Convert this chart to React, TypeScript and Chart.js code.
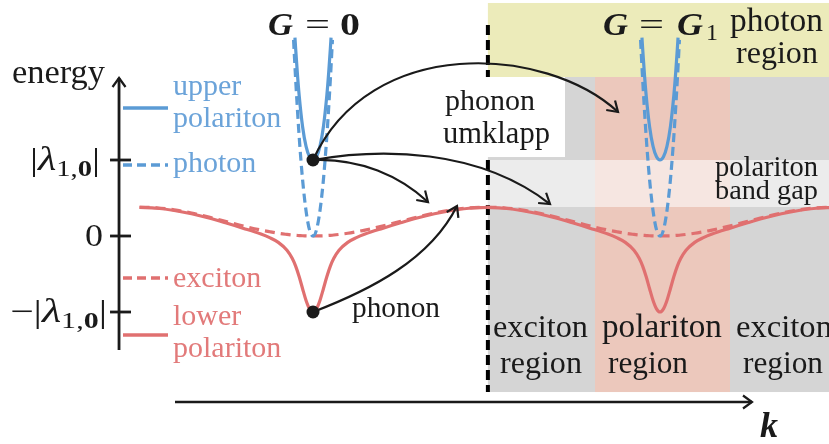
import React, { useEffect, useRef } from "react";
import { Chart, registerables } from "chart.js";
Chart.register(...registerables);

// k in units of |G1| (G = 0 at k = 0, G = G1 at k = 1); energy in units of |λ1,0|
const zoneCenters = [0, 1];

const kOffsets = [-0.5, -0.45, -0.4, -0.35, -0.3, -0.25, -0.2, -0.15, -0.125, -0.1, -0.075, -0.06, -0.05, -0.04, -0.03, -0.02, -0.01, 0, 0.01, 0.02, 0.03, 0.04, 0.05, 0.06, 0.075, 0.1, 0.125, 0.15, 0.2, 0.25, 0.3, 0.35, 0.4, 0.45, 0.5];
const excitonEnergy = [0.38, 0.371, 0.344, 0.302, 0.249, 0.19, 0.131, 0.078, 0.056, 0.036, 0.021, 0.013, 0.009, 0.006, 0.003, 0.002, 0.0004, 0, 0.0004, 0.002, 0.003, 0.006, 0.009, 0.013, 0.021, 0.036, 0.056, 0.078, 0.131, 0.19, 0.249, 0.302, 0.344, 0.371, 0.38];
const lowerPolaritonEnergy = [0.375, 0.365, 0.336, 0.292, 0.236, 0.17, 0.1, 0.025, -0.022, -0.084, -0.188, -0.294, -0.397, -0.534, -0.694, -0.848, -0.959, -1, -0.959, -0.848, -0.694, -0.534, -0.397, -0.294, -0.188, -0.084, -0.022, 0.025, 0.1, 0.17, 0.236, 0.292, 0.336, 0.365, 0.375];

const photonK = [-0.056, -0.05, -0.04, -0.03, -0.02, -0.01, 0, 0.01, 0.02, 0.03, 0.04, 0.05, 0.056];
const photonEnergy = [2.58, 2.06, 1.32, 0.74, 0.33, 0.08, 0, 0.08, 0.33, 0.74, 1.32, 2.06, 2.58];

const upperK = [-0.052, -0.05, -0.045, -0.04, -0.03, -0.02, -0.01, 0, 0.01, 0.02, 0.03, 0.04, 0.045, 0.05, 0.052];
const upperEnergy = [2.61, 2.465, 2.137, 1.858, 1.438, 1.178, 1.042, 1, 1.042, 1.178, 1.438, 1.858, 2.137, 2.465, 2.61];

// marked states (k, E)
const stateK = [0, 0];
const stateE = [1, -1];

// axis tick energies
const tickEnergies = [1, 0, -1];

// regions (k range, E range)
const zoneEdgeK = 0.504;
const photonRegionE = [2.092, 3.066];
const bandGapE = [0.3816, 1.0];
const regionBottomE = -2.053;
const polaritonRegionK = [0.8127, 1.2017];
const umklappBoxK = [0.36, 0.7262];
const umklappBoxE = [1.039, 2.092];

// curved arrows: cubic bezier control points [k, E]
const arrowPaths = [
  [[0, 1], [0.1643, 2.645], [0.6686, 2.513], [0.879, 1.632]],
  [[0, 1], [0.193, 1.158], [0.4755, 1.158], [0.683, 0.421]],
  [[0, 1], [0.1354, 1.026], [0.2507, 0.789], [0.3314, 0.447]],
  [[0, -1], [0.1643, -0.711], [0.3372, -0.316], [0.415, 0.395]],
];

const BLUE = "#5B9BD5";
const RED = "#E07070";
const BLUE_TXT = "#6BA3D9";
const RED_TXT = "#E27A7A";
const INK = "#1a1a1a";
const SERIF = '"Liberation Serif","Times New Roman",serif';

function fitText(ctx: CanvasRenderingContext2D, text: string, style: string, x0: number, x1: number, base: number) {
  ctx.font = `${style} 40px ${SERIF}`;
  const w = ctx.measureText(text).width;
  const size = (40 * (x1 - x0)) / w;
  ctx.font = `${style} ${size}px ${SERIF}`;
  ctx.textAlign = "left";
  ctx.textBaseline = "alphabetic";
  ctx.fillText(text, x0, base);
}

function plainText(ctx: CanvasRenderingContext2D, text: string, size: number, x0: number, base: number) {
  ctx.font = `${size}px ${SERIF}`;
  ctx.textAlign = "left";
  ctx.textBaseline = "alphabetic";
  ctx.fillText(text, x0, base);
}

type Run = { t: string; f: string; dy?: number };
// draws runs stretched horizontally to span x0..x1
function richFit(ctx: CanvasRenderingContext2D, runs: Run[], x0: number, x1: number, base: number) {
  let total = 0;
  const ws = runs.map((r) => {
    ctx.font = r.f;
    const w = ctx.measureText(r.t).width;
    total += w;
    return w;
  });
  const sx = (x1 - x0) / total;
  ctx.save();
  ctx.translate(x0, base);
  ctx.scale(sx, 1);
  ctx.textAlign = "left";
  ctx.textBaseline = "alphabetic";
  let cx = 0;
  runs.forEach((r, i) => {
    ctx.font = r.f;
    ctx.fillText(r.t, cx, r.dy || 0);
    cx += ws[i];
  });
  ctx.restore();
}

function openHead(ctx: CanvasRenderingContext2D, tx: number, ty: number, dx: number, dy: number, len: number, half: number) {
  const n = Math.hypot(dx, dy);
  const ux = dx / n, uy = dy / n;
  const bx = tx - ux * len, by = ty - uy * len;
  ctx.beginPath();
  ctx.moveTo(bx - uy * half, by + ux * half);
  ctx.lineTo(tx, ty);
  ctx.lineTo(bx + uy * half, by - ux * half);
  ctx.stroke();
}

const deco = {
  id: "deco",
  beforeDatasetsDraw(chart: any) {
    const { ctx, scales } = chart;
    const X = (v: number) => scales.x.getPixelForValue(v);
    const Y = (v: number) => scales.y.getPixelForValue(v);
    ctx.save();
    const fr = (k0: number, k1: number, e0: number, e1: number, c: string) => {
      ctx.fillStyle = c;
      const xa = X(k0), xb = X(k1), ya = Y(e1), yb = Y(e0);
      ctx.fillRect(xa, ya, xb - xa, yb - ya);
    };
    fr(zoneEdgeK, scales.x.max, photonRegionE[0], photonRegionE[1], "#ECEBBA");
    fr(zoneEdgeK, scales.x.max, regionBottomE, photonRegionE[0], "#D5D5D5");
    fr(polaritonRegionK[0], polaritonRegionK[1], regionBottomE, photonRegionE[0], "#ECC8BC");
    fr(zoneEdgeK, scales.x.max, bandGapE[0], bandGapE[1], "rgba(255,255,255,0.55)");
    // zone boundary
    ctx.strokeStyle = "#000";
    ctx.lineWidth = 4;
    ctx.setLineDash([10, 5]);
    ctx.beginPath();
    ctx.moveTo(X(zoneEdgeK), Y(2.776));
    ctx.lineTo(X(zoneEdgeK), Y(regionBottomE));
    ctx.stroke();
    ctx.setLineDash([]);
    fr(umklappBoxK[0], umklappBoxK[1], umklappBoxE[0], umklappBoxE[1], "#FFFFFF");
    ctx.restore();
  },
  afterDatasetsDraw(chart: any) {
    const { ctx, scales } = chart;
    const X = (v: number) => scales.x.getPixelForValue(v);
    const Y = (v: number) => scales.y.getPixelForValue(v);
    ctx.save();
    ctx.strokeStyle = INK;
    ctx.fillStyle = INK;
    ctx.lineCap = "butt";
    // arrows
    ctx.lineWidth = 2.2;
    arrowPaths.forEach((p) => {
      const P = p.map(([k, e]) => [X(k), Y(e)]);
      ctx.beginPath();
      ctx.moveTo(P[0][0], P[0][1]);
      ctx.bezierCurveTo(P[1][0], P[1][1], P[2][0], P[2][1], P[3][0], P[3][1]);
      ctx.stroke();
      openHead(ctx, P[3][0], P[3][1], P[3][0] - P[2][0], P[3][1] - P[2][1], 10, 6.5);
    });
    // energy axis
    const ax = X(-0.559);
    ctx.lineWidth = 2.8;
    ctx.beginPath();
    ctx.moveTo(ax, Y(-1.5));
    ctx.lineTo(ax, Y(2.079));
    ctx.stroke();
    ctx.lineWidth = 2.2;
    openHead(ctx, ax, Y(2.079), 0, -1, 9, 6.5);
    ctx.lineWidth = 2.8;
    tickEnergies.forEach((e) => {
      ctx.beginPath();
      ctx.moveTo(ax - 9, Y(e));
      ctx.lineTo(ax + 12, Y(e));
      ctx.stroke();
    });
    // k axis
    const ay = Y(-2.184);
    ctx.lineWidth = 2.5;
    ctx.beginPath();
    ctx.moveTo(X(-0.3977), ay);
    ctx.lineTo(X(1.2651), ay);
    ctx.stroke();
    ctx.lineWidth = 2.2;
    openHead(ctx, X(1.2651), ay, 1, 0, 9, 6.5);

    // legend swatches
    ctx.lineWidth = 3.5;
    const sw = (y: number, c: string, dash: number[]) => {
      ctx.strokeStyle = c;
      ctx.setLineDash(dash);
      ctx.beginPath();
      ctx.moveTo(123, y);
      ctx.lineTo(168, y);
      ctx.stroke();
    };
    sw(108, BLUE, []);
    sw(165, BLUE, [9, 5]);
    sw(278, RED, [9, 5]);
    sw(335, RED, []);
    ctx.setLineDash([]);

    // legend texts
    const LS = 30;
    ctx.fillStyle = BLUE_TXT;
    plainText(ctx, "upper", LS, 173, 95);
    plainText(ctx, "polariton", LS, 173, 127);
    plainText(ctx, "photon", LS, 173, 172);
    ctx.fillStyle = RED_TXT;
    plainText(ctx, "exciton", LS, 173, 287);
    plainText(ctx, "lower", LS, 173, 325);
    plainText(ctx, "polariton", LS, 173, 357);

    // axis labels
    ctx.fillStyle = INK;
    fitText(ctx, "energy", "", 12, 105, 83);
    const R32 = `32px ${SERIF}`;
    const I34 = `italic 34px ${SERIF}`;
    const R23 = `23px ${SERIF}`;
    const B23 = `bold 23px ${SERIF}`;
    richFit(ctx, [{ t: "|", f: R32 }, { t: "λ", f: I34 }, { t: "1,", f: R23, dy: 6 }, { t: "0", f: B23, dy: 6 }, { t: "|", f: R32 }], 30, 100, 170);
    richFit(ctx, [{ t: "0", f: R32 }], 85, 103, 246);
    richFit(ctx, [{ t: "−", f: R32 }, { t: "|", f: R32 }, { t: "λ", f: I34 }, { t: "1,", f: R23, dy: 6 }, { t: "0", f: B23, dy: 6 }, { t: "|", f: R32 }], 10, 107, 322);
    // G = 0
    richFit(ctx, [{ t: "G", f: `italic bold 32px ${SERIF}` }], 268, 293, 35);
    richFit(ctx, [{ t: "=", f: R32 }], 305, 330, 35);
    richFit(ctx, [{ t: "0", f: `bold 32px ${SERIF}` }], 340, 360, 35);
    // G = G1
    richFit(ctx, [{ t: "G", f: `italic bold 32px ${SERIF}` }], 603, 628, 35);
    richFit(ctx, [{ t: "=", f: R32 }], 639, 664, 35);
    richFit(ctx, [{ t: "G", f: `italic bold 32px ${SERIF}` }], 677, 703, 35);
    richFit(ctx, [{ t: "1", f: R23 }], 706, 718, 40);
    // k
    richFit(ctx, [{ t: "k", f: `italic bold 35px ${SERIF}` }], 760, 778, 437);

    // region labels
    fitText(ctx, "photon", "", 730, 823, 31);
    fitText(ctx, "region", "", 736, 818, 63);
    fitText(ctx, "phonon", "", 445, 535, 110);
    fitText(ctx, "umklapp", "", 443, 550, 143);
    fitText(ctx, "polariton", "", 715, 818, 176);
    fitText(ctx, "band gap", "", 715, 818, 199);
    fitText(ctx, "exciton", "", 493, 588, 337);
    fitText(ctx, "region", "", 500, 582, 373);
    fitText(ctx, "polariton", "", 602, 722, 337);
    fitText(ctx, "region", "", 608, 688, 373);
    fitText(ctx, "exciton", "", 736, 832, 337);
    fitText(ctx, "region", "", 743, 823, 373);
    fitText(ctx, "phonon", "", 352, 440, 317);
    ctx.restore();
  },
};

export default function App() {
  const ref = useRef<HTMLCanvasElement>(null);
  useEffect(() => {
    const canvas = ref.current!;
    const pts = (c: number, ks: number[], es: number[]) => ks.map((k, i) => ({ x: k + c, y: es[i] }));
    const datasets: any[] = [];
    datasets.push({
      type: "scatter",
      data: stateK.map((k, i) => ({ x: k, y: stateE[i] })),
      pointRadius: 6.5,
      pointBackgroundColor: INK,
      pointBorderWidth: 0,
      showLine: false,
      order: 0,
    });
    zoneCenters.forEach((c) => {
      datasets.push({ data: pts(c, upperK, upperEnergy), borderColor: BLUE, borderWidth: 3.2, order: 1 });
      datasets.push({ data: pts(c, photonK, photonEnergy), borderColor: BLUE, borderWidth: 3.2, borderDash: [9, 5], order: 2 });
      datasets.push({ data: pts(c, kOffsets, lowerPolaritonEnergy), borderColor: RED, borderWidth: 3.2, order: 3 });
      datasets.push({ data: pts(c, kOffsets, excitonEnergy), borderColor: RED, borderWidth: 3.2, borderDash: [10, 6], order: 4 });
    });
    datasets.forEach((d) => {
      if (d.type !== "scatter") {
        d.pointRadius = 0;
        d.cubicInterpolationMode = "monotone";
        d.fill = false;
      }
    });
    const chart = new Chart(canvas, {
      type: "line",
      data: { datasets },
      options: {
        animation: false,
        responsive: false,
        devicePixelRatio: 1,
        layout: { padding: 0, autoPadding: false },
        plugins: { legend: { display: false }, tooltip: { enabled: false } },
        scales: {
          x: { type: "linear", min: -0.90202, max: 1.48703, display: false },
          y: { type: "linear", min: -2.7368, max: 3.1053, display: false },
        },
      },
      plugins: [deco],
    });
    return () => chart.destroy();
  }, []);
  return (
    <div style={{ position: "fixed", left: 0, top: 0, width: 829, height: 444, background: "#fff" }}>
      <canvas ref={ref} width={829} height={444} />
    </div>
  );
}
